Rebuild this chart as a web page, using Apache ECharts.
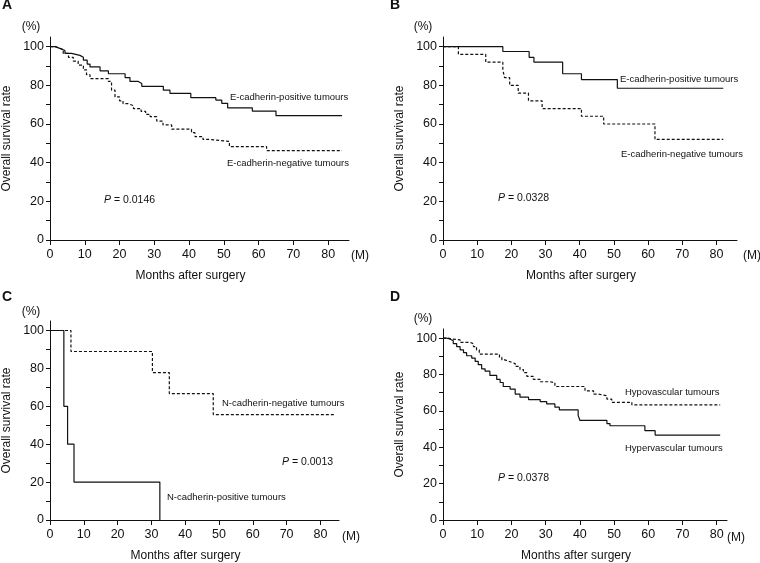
<!DOCTYPE html>
<html>
<head>
<meta charset="utf-8">
<script src="https://cdn.jsdelivr.net/npm/echarts@6/dist/echarts.min.js"></script>
<style>
  html, body { margin: 0; padding: 0; background: #fff; }
  #chart { width: 760px; height: 563px; }
</style>
</head>
<body>
<div id="chart"></div>
<script>
// panel A: E-cadherin
const monthsAPos = [0, 1.5, 3, 4.3, 6.2, 8.6, 9.6, 10.7, 11.5, 14.4, 16.8, 21.6, 23, 25.4, 26.4, 32.6, 34.5, 40.5, 47.7, 49.4, 51.1, 58.2, 65, 84]
const survAPos = [100, 99, 98, 96.5, 95.5, 94.5, 93, 91, 89.5, 87.5, 86, 84, 82, 81, 79.5, 77.5, 75.8, 73.6, 72.4, 70.7, 68.3, 66.7, 64.3, 64.3]
const monthsANeg = [0, 1.5, 2.4, 3.8, 5.3, 6.7, 8.1, 9.6, 10.5, 11.5, 16.8, 17.7, 18.7, 20, 21, 22.5, 24, 26.2, 27.5, 28.8, 30.7, 32.5, 35, 40.7, 41.7, 44, 46, 51.6, 62.3, 84]
const survANeg = [100, 99.5, 98.5, 96.5, 94.5, 92.5, 90.5, 88, 85.5, 83.5, 82, 77.5, 74, 72, 70.5, 69.5, 68, 66.5, 65, 63.8, 61.5, 59.5, 57.3, 55.5, 53.5, 52, 51, 48.3, 46.2, 46.2]

// panel B: E-cadherin
const monthsBPos = [0, 17.5, 25.2, 26.6, 35, 40.5, 51, 82]
const survBPos = [100, 97.5, 94.5, 92, 86, 83, 78.5, 78.5]
const monthsBNeg = [0, 4.5, 12.5, 17.5, 18, 19.5, 22, 25, 29, 40.5, 47, 62, 82]
const survBNeg = [100, 96, 92, 88, 84, 80, 76, 72, 68, 64, 60, 52, 52]

// panel C: N-cadherin
const monthsCPos = [0, 4.1, 5.2, 7.1, 32.5]
const survCPos = [100, 60, 40, 20, 0]
const monthsCNeg = [0, 6.2, 30.3, 35.3, 48.3, 84]
const survCNeg = [100, 88.9, 77.8, 66.7, 55.6, 55.6]

// panel D: vascularity
const monthsDHyper = [0, 1, 2, 3, 4, 5, 6, 6.9, 8.4, 9.4, 10.3, 11.3, 12.3, 13.7, 15.7, 16.7, 17.6, 19.6, 21.1, 22.5, 25, 28.4, 30.3, 32.7, 34, 39.5, 40, 47.9, 48.8, 59, 62, 81]
const survDHyper = [100, 99.5, 98.5, 97, 95.3, 93.5, 92, 90.3, 89, 87.2, 85.4, 83.1, 81.8, 79.5, 77.3, 75.6, 73.4, 72, 69.2, 67.5, 66.2, 65.1, 63.8, 62, 60.5, 57.5, 54.8, 53, 51.8, 49.1, 46.7, 46.7]
const monthsDHypo = [0, 1.5, 2.5, 5, 7.9, 8.9, 9.8, 10.6, 16.5, 17.2, 18.1, 19.6, 21.1, 22.5, 23.5, 24.5, 26.4, 28.4, 31.3, 32.7, 41.5, 44, 45.4, 47.9, 49.3, 55.2, 81]
const survDHypo = [100, 99.5, 99, 97.7, 96.9, 95.3, 93.5, 91.2, 89.5, 88, 87, 86, 84.5, 82.7, 81, 79, 77.3, 76, 75.5, 73.4, 71, 69.2, 68.3, 66.5, 64.7, 63.3, 63.3]

const xTicks = [0, 10, 20, 30, 40, 50, 60, 70, 80]
const yTicks = [0, 10, 20, 30, 40, 50, 60, 70, 80, 90, 100]
const yLabels = [0, 20, 40, 60, 80, 100]
const xMax = [86, 86, 85.5, 83]

const FONT = '"Liberation Sans", Arial, sans-serif'
const INK = '#111'

const chart = echarts.init(document.getElementById('chart'))

const grids = [
  { left: 50, top: 37, width: 299, height: 203 },
  { left: 443, top: 37, width: 294, height: 203 },
  { left: 50, top: 321, width: 289, height: 200 },
  { left: 443, top: 329, width: 284, height: 194 },
]

function xAxisFor(i) {
  return {
    type: 'value', gridIndex: i, min: 0, max: xMax[i], interval: 10,
    name: 'Months after surgery', nameLocation: 'middle', nameGap: 30,
    nameTextStyle: { fontSize: 12, color: INK, fontFamily: FONT, padding: [0, 18, 0, 0] },
    axisLine: { onZero: false, lineStyle: { color: INK, width: 1 } },
    axisTick: { length: 5, customValues: xTicks, lineStyle: { color: INK } },
    axisLabel: { customValues: xTicks, fontSize: 12.5, color: INK, margin: 8, fontFamily: FONT },
    splitLine: { show: false },
  }
}

function yAxisFor(i) {
  return {
    type: 'value', gridIndex: i, min: 0, max: 105, interval: 10,
    name: 'Overall survival rate', nameLocation: 'middle', nameGap: 37, nameRotate: 90,
    nameTextStyle: { fontSize: 12, color: INK, fontFamily: FONT },
    axisLine: { show: true, onZero: false, lineStyle: { color: INK, width: 1 } },
    axisTick: { show: true, length: 4, customValues: yTicks, lineStyle: { color: INK } },
    axisLabel: { customValues: yLabels, fontSize: 12.5, color: INK, margin: 6, fontFamily: FONT },
    splitLine: { show: false },
  }
}

function kmSeries(i, months, surv, dashed) {
  return {
    type: 'line', xAxisIndex: i, yAxisIndex: i, step: 'end',
    showSymbol: false, silent: true,
    data: months.map((m, k) => [m, surv[k]]),
    lineStyle: { color: INK, width: 1.2, type: dashed ? [3, 2] : 'solid' },
  }
}

function txt(x, y, text, size, opts) {
  const o = opts || {}
  return {
    type: 'text', x: x, y: y, silent: true,
    style: {
      text: text, fill: INK,
      font: (o.bold ? 'bold ' : '') + size + 'px ' + FONT,
      textAlign: o.align || 'left', textVerticalAlign: 'middle',
      rich: { i: { fontStyle: 'italic', fontSize: size, fontFamily: FONT, fill: INK } },
    },
  }
}

const labels = [
  // A
  txt(2, 5, 'A', 14, { bold: true }),
  txt(31, 27, '(%)', 12, { align: 'center' }),
  txt(360, 256, '(M)', 12, { align: 'center' }),
  txt(230, 97, 'E-cadherin-positive tumours', 9.5),
  txt(227, 163, 'E-cadherin-negative tumours', 9.5),
  txt(104, 200, '{i|P} = 0.0146', 10.5),
  // B
  txt(390, 5, 'B', 14, { bold: true }),
  txt(423, 27, '(%)', 12, { align: 'center' }),
  txt(752, 256, '(M)', 12, { align: 'center' }),
  txt(620, 79, 'E-cadherin-positive tumours', 9.5),
  txt(621, 154, 'E-cadherin-negative tumours', 9.5),
  txt(498, 198, '{i|P} = 0.0328', 10.5),
  // C
  txt(2, 297, 'C', 14, { bold: true }),
  txt(31, 312, '(%)', 12, { align: 'center' }),
  txt(351, 537, '(M)', 12, { align: 'center' }),
  txt(222, 403, 'N-cadherin-negative tumours', 9.5),
  txt(282, 462, '{i|P} = 0.0013', 10.5),
  txt(167, 497, 'N-cadherin-positive tumours', 9.5),
  // D
  txt(390, 297, 'D', 14, { bold: true }),
  txt(423, 319, '(%)', 12, { align: 'center' }),
  txt(736, 538, '(M)', 12, { align: 'center' }),
  txt(625, 392, 'Hypovascular tumours', 9.5),
  txt(625, 448, 'Hypervascular tumours', 9.5),
  txt(498, 478, '{i|P} = 0.0378', 10.5),
]

chart.setOption({
  animation: false,
  backgroundColor: '#fff',
  textStyle: { fontFamily: FONT },
  grid: grids,
  xAxis: [0, 1, 2, 3].map(xAxisFor),
  yAxis: [0, 1, 2, 3].map(yAxisFor),
  series: [
    kmSeries(0, monthsAPos, survAPos, false),
    kmSeries(0, monthsANeg, survANeg, true),
    kmSeries(1, monthsBPos, survBPos, false),
    kmSeries(1, monthsBNeg, survBNeg, true),
    kmSeries(2, monthsCPos, survCPos, false),
    kmSeries(2, monthsCNeg, survCNeg, true),
    kmSeries(3, monthsDHyper, survDHyper, false),
    kmSeries(3, monthsDHypo, survDHypo, true),
  ],
  graphic: labels,
})
</script>
</body>
</html>
